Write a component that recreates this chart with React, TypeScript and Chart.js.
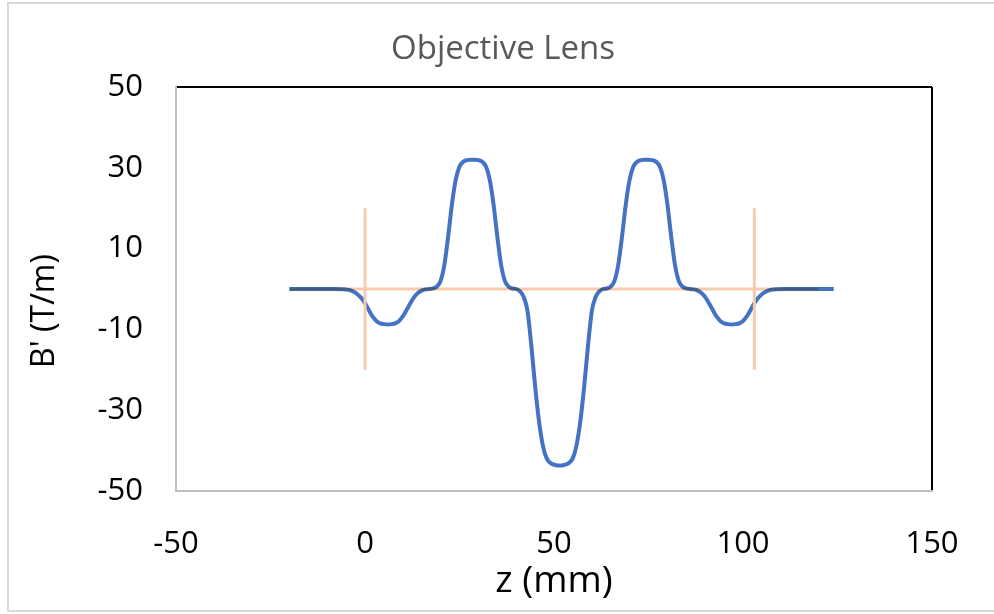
import React, { useEffect, useRef } from "react";
import { Chart, registerables } from "chart.js";

Chart.register(...registerables);

// ---- Data ----
const TITLE = "Objective Lens";
const X_TITLE = "z (mm)";
const Y_TITLE = "B' (T/m)";

const X_MIN = -50;
const X_MAX = 150;
const X_STEP = 50;
const Y_MIN = -50;
const Y_MAX = 50;
const Y_STEP = 20;

// Blue series: gradient B' along z
const zValues = [
  -20, -8, -6, -5, -4, -3, -2, -1, 0, 1, 2, 3, 4, 5, 6, 7, 8, 9, 10, 11, 12, 13, 14, 15,
  16, 17, 18, 19, 20, 21, 22, 23, 24, 25, 26, 27, 28, 29, 30, 31, 32, 33, 34, 35, 36, 37,
  38, 39, 40, 41, 42, 43, 44, 45, 46, 47, 48, 49, 50, 51, 52, 53, 54, 55, 56, 57, 58, 59,
  60, 61, 62, 63, 64, 65, 66, 67, 68, 69, 70, 71, 72, 73, 74, 75, 76, 77, 78, 79, 80, 81,
  82, 83, 84, 85, 86, 87, 88, 89, 90, 91, 92, 93, 94, 95, 96, 97, 98, 99, 100, 101, 102,
  103, 104, 105, 106, 107, 108, 109, 111, 124,
];
const bValues = [
  0, 0, -0.05, -0.1, -0.3, -0.7, -1.3, -2.2, -3.5, -5.2, -6.8, -7.9, -8.5, -8.7, -8.8, -8.7,
  -8.5, -7.9, -6.8, -5.2, -3.5, -2, -1, -0.4,
  -0.1, 0, 0.15, 0.6, 2, 6, 13, 21, 27, 30.3, 31.5, 31.9, 32, 32, 31.9, 31.5, 30.3, 27, 21,
  13, 6, 2,
  0.6, 0.15, 0, -0.6, -2, -5.5, -14, -24, -32.5, -38.5, -41.8, -43, -43.5, -43.7, -43.7,
  -43.5, -43, -41.8, -38.5, -32.5, -24, -14,
  -5.5, -2, -0.6, 0, 0.15, 0.6, 2, 6, 13, 21, 27, 30.3, 31.5, 31.9, 32, 32, 31.9, 31.5, 30.3,
  27, 21, 13,
  6, 2, 0.6, 0.15, 0, -0.1, -0.4, -1, -2, -3.5, -5.2, -6.8, -7.9, -8.5, -8.7, -8.8, -8.7,
  -8.5, -7.9, -6.8, -5.2,
  -3.5, -2.2, -1.3, -0.7, -0.3, -0.1, -0.05, 0, 0,
];

// Orange series: axis reference line and markers at the lens ends
const axisLineZ = [-20, 120];
const axisLineB = [0, 0];
const marker1Z = [0, 0];
const marker1B = [20, -20];
const marker2Z = [103, 103];
const marker2B = [20, -20];

const toPoints = (xs: number[], ys: number[]) => xs.map((x, i) => ({ x, y: ys[i] }));

const BLUE = "#4472C4";
const ORANGE = "#F8CBAD";
const FONT = "'Open Sans', 'Noto Sans', sans-serif";

const blendPlugin = {
  id: "orangeBlend",
  beforeDatasetDraw(chart: any, args: any) {
    if (args.index === 2) {
      chart.ctx.save();
      chart.ctx.globalCompositeOperation = "multiply";
    }
  },
  afterDatasetDraw(chart: any, args: any) {
    if (args.index === 2) chart.ctx.restore();
  },
};

const titlesPlugin = {
  id: "titles",
  afterDraw(chart: any) {
    const ctx = chart.ctx;
    ctx.save();
    ctx.fillStyle = "#595959";
    ctx.font = `33px ${FONT}`;
    ctx.textAlign = "center";
    ctx.textBaseline = "middle";
    ctx.fillText(TITLE, 503, 50);
    ctx.restore();

    ctx.save();
    ctx.translate(45, 311);
    ctx.rotate(-Math.PI / 2);
    ctx.fillStyle = "#000";
    ctx.font = `32px ${FONT}`;
    ctx.textAlign = "center";
    ctx.textBaseline = "middle";
    ctx.fillText(Y_TITLE, 0, 0);
    ctx.restore();
  },
};

export default function App() {
  const ref = useRef<HTMLCanvasElement | null>(null);

  useEffect(() => {
    if (!ref.current) return;
    const chart = new Chart(ref.current, {
      type: "scatter",
      data: {
        datasets: [
          {
            label: "end marker 1",
            data: toPoints(marker1Z, marker1B),
            showLine: true,
            borderColor: ORANGE,
            borderWidth: 3,
            pointRadius: 0,
          },
          {
            label: "end marker 2",
            data: toPoints(marker2Z, marker2B),
            showLine: true,
            borderColor: ORANGE,
            borderWidth: 3,
            pointRadius: 0,
          },
          {
            label: "axis",
            data: toPoints(axisLineZ, axisLineB),
            showLine: true,
            borderColor: ORANGE,
            borderWidth: 3,
            pointRadius: 0,
          },
          {
            label: "B'",
            data: toPoints(zValues, bValues),
            showLine: true,
            borderColor: BLUE,
            borderWidth: 4,
            pointRadius: 0,
            cubicInterpolationMode: "monotone",
          },
        ],
      },
      options: {
        animation: false,
        responsive: false,
        layout: { padding: { left: 0, right: 62, top: 87, bottom: 0 } },
        plugins: {
          legend: { display: false },
          tooltip: { enabled: false },
          title: { display: false },
        },
        scales: {
          x: {
            type: "linear",
            min: X_MIN,
            max: X_MAX,
            afterFit: (s: any) => {
              s.height = 123;
            },
            ticks: {
              stepSize: X_STEP,
              color: "#000",
              font: { family: FONT, size: 31 },
              padding: 35,
              maxRotation: 0,
            },
            grid: {
              drawTicks: false,
              lineWidth: 2,
              color: (c: any) => (c.tick && c.tick.value === X_MAX ? "#000" : "rgba(0,0,0,0)"),
            },
            border: { color: "#BFBFBF", width: 2 },
            title: {
              display: true,
              text: X_TITLE,
              color: "#000",
              font: { family: FONT, size: 37 },
              padding: { top: 0, bottom: 10 },
            },
          },
          y: {
            type: "linear",
            min: Y_MIN,
            max: Y_MAX,
            afterFit: (s: any) => {
              s.width = 176;
            },
            ticks: {
              stepSize: Y_STEP,
              color: "#000",
              font: { family: FONT, size: 31 },
              padding: 33,
            },
            grid: {
              drawTicks: false,
              lineWidth: 2,
              color: (c: any) => (c.tick && c.tick.value === Y_MAX ? "#000" : "rgba(0,0,0,0)"),
            },
            border: { color: "#BFBFBF", width: 2 },
            title: { display: false },
          },
        },
      },
      plugins: [blendPlugin, titlesPlugin],
    } as any);
    return () => chart.destroy();
  }, []);

  return (
    <div style={{ position: "fixed", left: 0, top: 0, width: 994, height: 614, background: "#fff" }}>
      <canvas ref={ref} width={994} height={614} style={{ position: "absolute", left: 0, top: 0, display: "block" }} />
      <div
        style={{
          position: "absolute",
          left: 7,
          top: 2,
          width: 1010,
          height: 606,
          border: "2px solid #D9D9D9",
          pointerEvents: "none",
        }}
      />
    </div>
  );
}
